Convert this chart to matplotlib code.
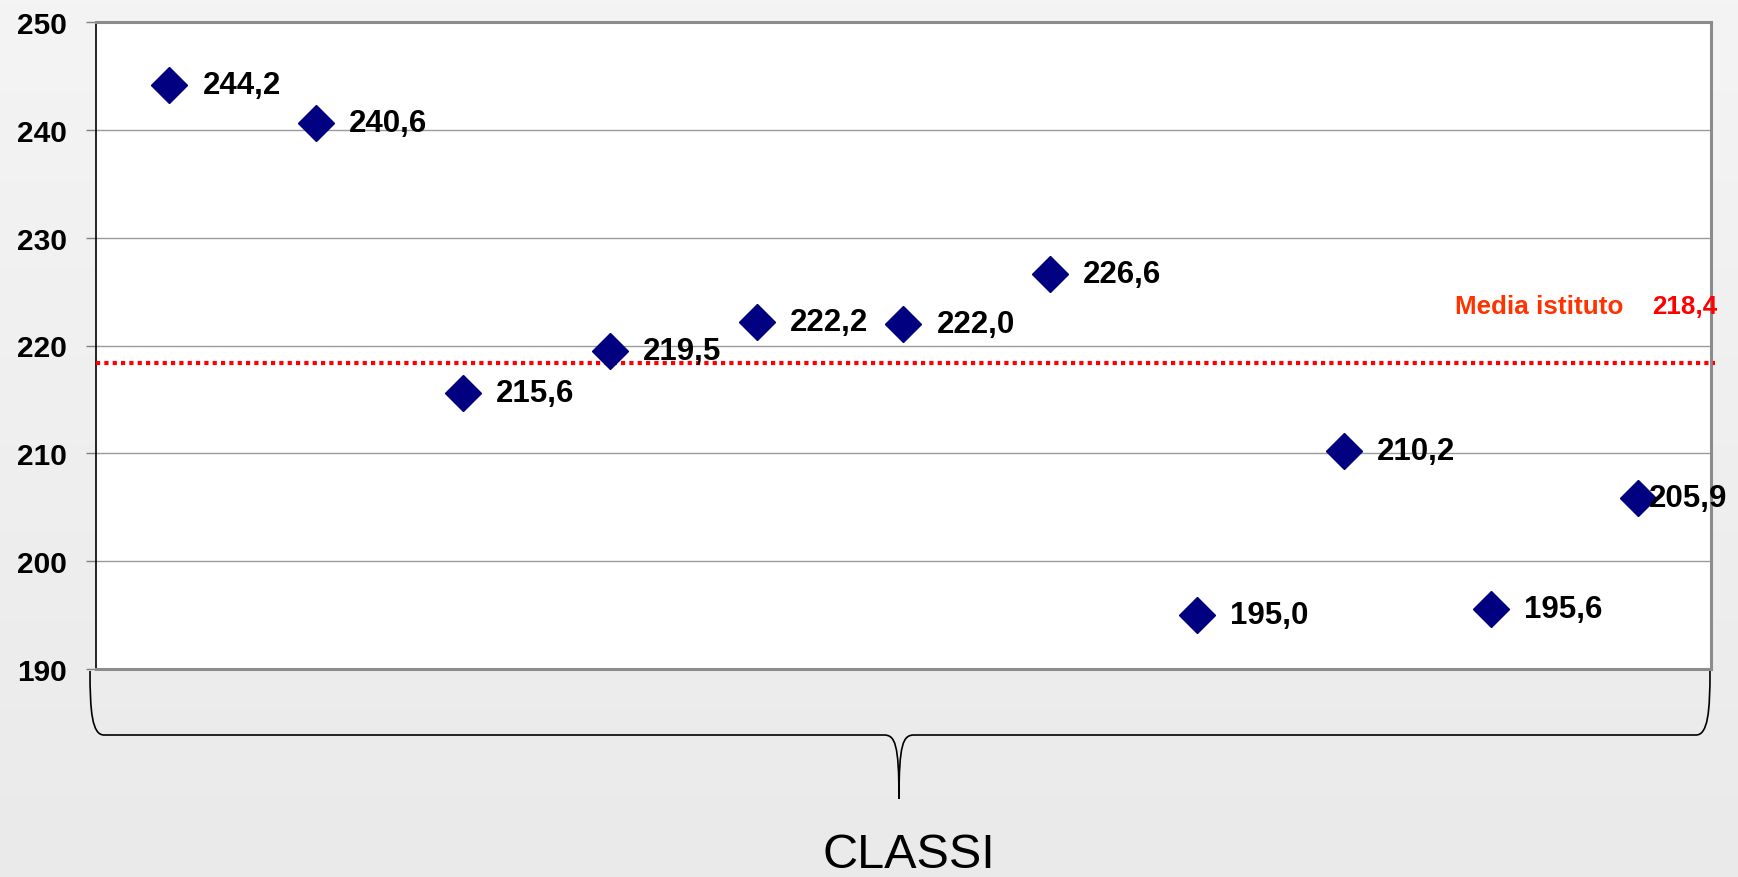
import matplotlib
matplotlib.use("Agg")
import matplotlib.pyplot as plt
import numpy as np
from matplotlib.path import Path
from matplotlib.patches import PathPatch

# ---- data ----
values = [244.2, 240.6, 215.6, 219.5, 222.2, 222.0, 226.6, 195.0, 210.2, 195.6, 205.9]
labels = ["244,2", "240,6", "215,6", "219,5", "222,2", "222,0", "226,6", "195,0", "210,2", "195,6", "205,9"]
media = 218.4
media_label = "218,4"
yticks = [190, 200, 210, 220, 230, 240, 250]
xlabel = "CLASSI"

plt.rcParams['font.family'] = ['Liberation Sans', 'DejaVu Sans']

W, H = 1738, 878
fig = plt.figure(figsize=(W / 100, H / 100), dpi=100)

# background gradient
bg = fig.add_axes([0, 0, 1, 1], zorder=-10)
grad = np.linspace(0, 1, 256).reshape(-1, 1)
top = np.array([0.957, 0.957, 0.957])
bot = np.array([0.918, 0.918, 0.918])
img = top[None, None, :] * (1 - grad[:, :, None]) + bot[None, None, :] * grad[:, :, None]
bg.imshow(img, aspect='auto', extent=[0, 1, 0, 1])
bg.set_axis_off()

L, R, T, B = 96, 1711, 23, 670
ax = fig.add_axes([L / W, 1 - B / H, (R - L) / W, (B - T) / H])
ax.set_facecolor('white')

x = np.arange(len(values))
ax.set_xlim(-0.5, len(values) - 0.5)
ax.set_ylim(190, 250)
ax.set_yticks(yticks)
ax.set_xticks([])
ax.yaxis.grid(True, color='#9a9a9a', linewidth=1.0)
ax.set_axisbelow(True)
for lab in ax.get_yticklabels():
    lab.set_fontweight('bold')
ax.tick_params(axis='y', length=7, width=1.0, color='#808080', labelsize=21.5, pad=14)

for s in ['top', 'right', 'bottom']:
    ax.spines[s].set_color('#8c8c8c')
    ax.spines[s].set_linewidth(2.2)
ax.spines['left'].set_color('black')
ax.spines['left'].set_linewidth(1.2)

# media line
ax.plot([-0.5, len(values) - 0.5 + 0.03], [media, media], color='#ff0000',
        linewidth=3, linestyle=(0, (1, 1)), dash_capstyle='butt', clip_on=False, zorder=3)

ax.plot(x, values, linestyle='none', marker='D', markersize=18,
        color='#000080', zorder=4, clip_on=False)

for i, (v, t) in enumerate(zip(values, labels)):
    off = 33 if i < len(values) - 1 else 11
    ax.annotate(t, (i, v), xytext=(off * 0.72, 0), textcoords='offset points',
                ha='left', va='center', fontsize=22.5, fontweight='bold',
                color='black', zorder=5, annotation_clip=False)

ax.text(8.757, 223.0, "Media istituto", color='#ff3300', fontsize=18.7,
        fontweight='bold', ha='left', va='baseline')
ax.text(10.541, 223.0, media_label, color='#ff0000', fontsize=18.7,
        fontweight='bold', ha='right', va='baseline')

# brace
def P(px, py):
    return (px / W, 1 - py / H)

verts = [P(90, 672), P(90, 712), P(92, 736), P(104, 736),
         P(884, 736),
         P(895, 736), P(899, 745), P(899, 800),
         P(1710, 672), P(1710, 712), P(1708, 736), P(1696, 736),
         P(914, 736),
         P(903, 736), P(899, 745), P(899, 800)]
codes = [Path.MOVETO, Path.CURVE4, Path.CURVE4, Path.CURVE4,
         Path.LINETO,
         Path.CURVE4, Path.CURVE4, Path.CURVE4,
         Path.MOVETO, Path.CURVE4, Path.CURVE4, Path.CURVE4,
         Path.LINETO,
         Path.CURVE4, Path.CURVE4, Path.CURVE4]
fig.add_artist(PathPatch(Path(verts, codes), facecolor='none', edgecolor='black',
                         linewidth=1.2, transform=fig.transFigure))

fig.text(909 / W, 1 - 856 / H, xlabel, fontsize=35, ha='center', va='center',
         color='black')

fig.savefig('out.png', dpi=100)
